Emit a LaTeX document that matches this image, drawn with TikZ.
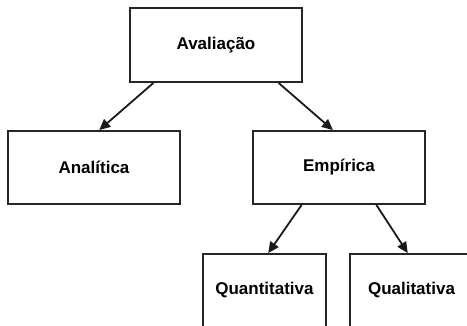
\documentclass[tikz,border=0pt]{standalone}
\usepackage{fontspec}
\setmainfont{Liberation Sans}
\usetikzlibrary{arrows.meta,calc}
\begin{document}
\begin{tikzpicture}[x=1pt,y=-1pt,
  box/.style={draw=black!85,line width=1.8pt,rectangle,inner sep=0pt,minimum width=172pt,minimum height=74pt,font=\fontsize{17}{20}\selectfont\bfseries},
  sbox/.style={box,minimum width=123pt,minimum height=73pt},
  conn/.style={line width=1.8pt,draw=black!90,-{Triangle[length=11pt,width=10pt]}}]
\useasboundingbox (0,0) rectangle (467,326);
\fill[white] (0,0) rectangle (467,326);
\clip (0,0) rectangle (467,326);
\node[box] (av) at (216,45) {Avaliação};
\node[box,minimum height=73pt] (an) at (94,167.5) {Analítica};
\node[box,minimum height=73pt] (em) at (339,167.5) {Empírica};
\node[sbox] (qt) at (264.5,290.5) {Quantitativa};
\node[sbox] (ql) at (411.5,290.5) {Qualitativa};
\draw[conn] ($(av.south west)!0.14!(av.south east)$) -- ($(an.north west)!0.53!(an.north east)$);
\draw[conn] ($(av.south west)!0.86!(av.south east)$) -- ($(em.north west)!0.465!(em.north east)$);
\draw[conn] ($(em.south west)!0.285!(em.south east)$) -- ($(qt.north west)!0.53!(qt.north east)$);
\draw[conn] ($(em.south west)!0.715!(em.south east)$) -- ($(ql.north west)!0.47!(ql.north east)$);
\end{tikzpicture}
\end{document}
